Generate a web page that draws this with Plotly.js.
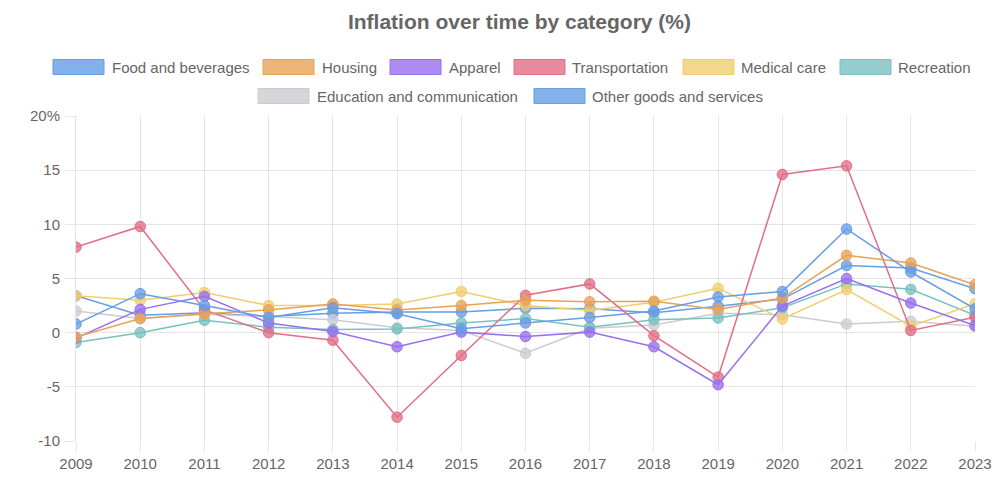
<!DOCTYPE html>
<html>
<head>
<meta charset="utf-8">
<script src="https://cdn.plot.ly/plotly-3.0.1.min.js"></script>
<style>html,body{margin:0;padding:0;background:#fff;}#chart{width:1000px;height:484px;}</style>
</head>
<body>
<div id="chart"></div>
<script>
// ---- data ----
const years = [2009,2010,2011,2012,2013,2014,2015,2016,2017,2018,2019,2020,2021,2022,2023];
const seriesNames = ["Food and beverages","Housing","Apparel","Transportation","Medical care","Recreation","Education and communication","Other goods and services"];
const foodBeverages   = [0.8, 3.6, 2.5, 1.4, 2.3, 1.75, 0.37, 0.9, 1.4, 2.0, 3.3, 3.8, 9.57, 5.6, 2.2];
const housing         = [-0.4, 1.3, 1.75, 2.1, 2.65, 2.1, 2.5, 3.0, 2.85, 2.9, 2.15, 3.2, 7.14, 6.43, 4.43];
const apparel         = [-0.5, 2.15, 3.35, 0.9, 0.1, -1.3, 0.05, -0.35, 0.05, -1.3, -4.8, 2.45, 5.0, 2.74, 0.65];
const transportation  = [7.9, 9.8, 2.1, 0.0, -0.7, -7.8, -2.1, 3.45, 4.5, -0.28, -4.1, 14.6, 15.4, 0.2, 1.42];
const medicalCare     = [3.4, 3.0, 3.7, 2.5, 2.5, 2.65, 3.8, 2.5, 2.05, 2.8, 4.1, 1.26, 3.97, 0.6, 2.68];
const recreation      = [-0.9, 0.0, 1.15, 0.5, 0.3, 0.35, 0.9, 1.3, 0.5, 1.2, 1.35, 2.3, 4.5, 4.0, 1.6];
const educationComm   = [2.0, 1.3, 1.7, 1.5, 1.2, 0.45, 0.2, -1.9, 0.4, 0.7, 1.8, 1.66, 0.8, 1.05, 0.6];
const otherGoods      = [3.4, 1.6, 1.85, 1.5, 1.8, 1.9, 1.9, 2.25, 2.2, 1.85, 2.45, 3.1, 6.2, 5.97, 4.06];
const yTickVals = [-10,-5,0,5,10,15,20];
const yTickText = ["-10","-5","0","5","10","15","20%"];

// ---- styles ----
const colors = [
  [102,157,230],[232,162,86],[152,112,238],[226,110,134],
  [240,205,112],[122,192,192],[202,204,208],[102,157,230]
];
const rgba = (c,a)=>`rgba(${c[0]},${c[1]},${c[2]},${a})`;
const allSeries = [foodBeverages,housing,apparel,transportation,medicalCare,recreation,educationComm,otherGoods];

const traces = [];
for (let i = allSeries.length-1; i >= 0; i--) {
  traces.push({
    type:'scatter', mode:'lines+markers', name: seriesNames[i],
    x: years, y: allSeries[i],
    line:{color: rgba(colors[i],1), width:1.5},
    marker:{size:10.5, color: rgba(colors[i],0.78), line:{color: rgba(colors[i],1), width:1}},
    showlegend:false, hoverinfo:'x+y+name'
  });
}

// plot area in pixels
const L=76, R=975, T=116, B=441;
const px = p => (p-L)/(R-L);
const py = p => (B-p)/(B-T);

// manual legend (Chart.js-like boxes)
const legendItems = [
  {box:53,  text:110, row:67},
  {box:263, text:320, row:67},
  {box:390, text:447, row:67},
  {box:514, text:570, row:67},
  {box:683, text:739, row:67},
  {box:840, text:896, row:67},
  {box:258, text:315, row:96},
  {box:534, text:590, row:96}
];
const shapes = [], annotations = [];
legendItems.forEach((it,i)=>{
  shapes.push({type:'rect', xref:'paper', yref:'paper',
    x0:px(it.box), x1:px(it.box+51), y0:py(it.row+7.5), y1:py(it.row-7.5),
    fillcolor: rgba(colors[i],0.8), line:{color:rgba(colors[i],1), width:1}});
  annotations.push({xref:'paper', yref:'paper', x:px(it.text), y:py(it.row),
    xanchor:'left', yanchor:'middle', showarrow:false, text: seriesNames[i],
    font:{family:'Liberation Sans, Arial, sans-serif', size:15, color:'#666'}});
});

const gridC = 'rgba(0,0,0,0.1)';
const layout = {
  width:1000, height:484,
  margin:{l:L, r:1000-R, t:T, b:484-B, pad:0},
  paper_bgcolor:'#fff', plot_bgcolor:'#fff',
  font:{family:'Liberation Sans, Arial, sans-serif', size:15, color:'#666'},
  title:{text:'Inflation over time by category (%)', x:0.5195, xref:'container', xanchor:'center',
    y:1-22/484, yref:'container', yanchor:'middle',
    font:{family:'Liberation Sans, Arial, sans-serif', size:21, color:'#666', weight:'bold'}},
  xaxis:{range:[2009,2023], tickvals:years, ticktext:years.map(String), showgrid:true, gridcolor:gridC, gridwidth:1,
    zeroline:false, ticks:'outside', ticklen:9, tickcolor:gridC, showline:false,
    tickfont:{size:15, color:'#666'}},
  yaxis:{range:[-10,20], tickvals:yTickVals, ticktext:yTickText, showgrid:true, gridcolor:gridC, gridwidth:1,
    zeroline:false, ticks:'outside', ticklen:10, tickcolor:gridC, showline:true, linecolor:gridC,
    tickfont:{size:15, color:'#666'}, ticklabelstandoff:2},
  shapes, annotations, showlegend:false, hovermode:'closest'
};
Plotly.newPlot('chart', traces, layout, {displayModeBar:false, staticPlot:true});
</script>
</body>
</html>
